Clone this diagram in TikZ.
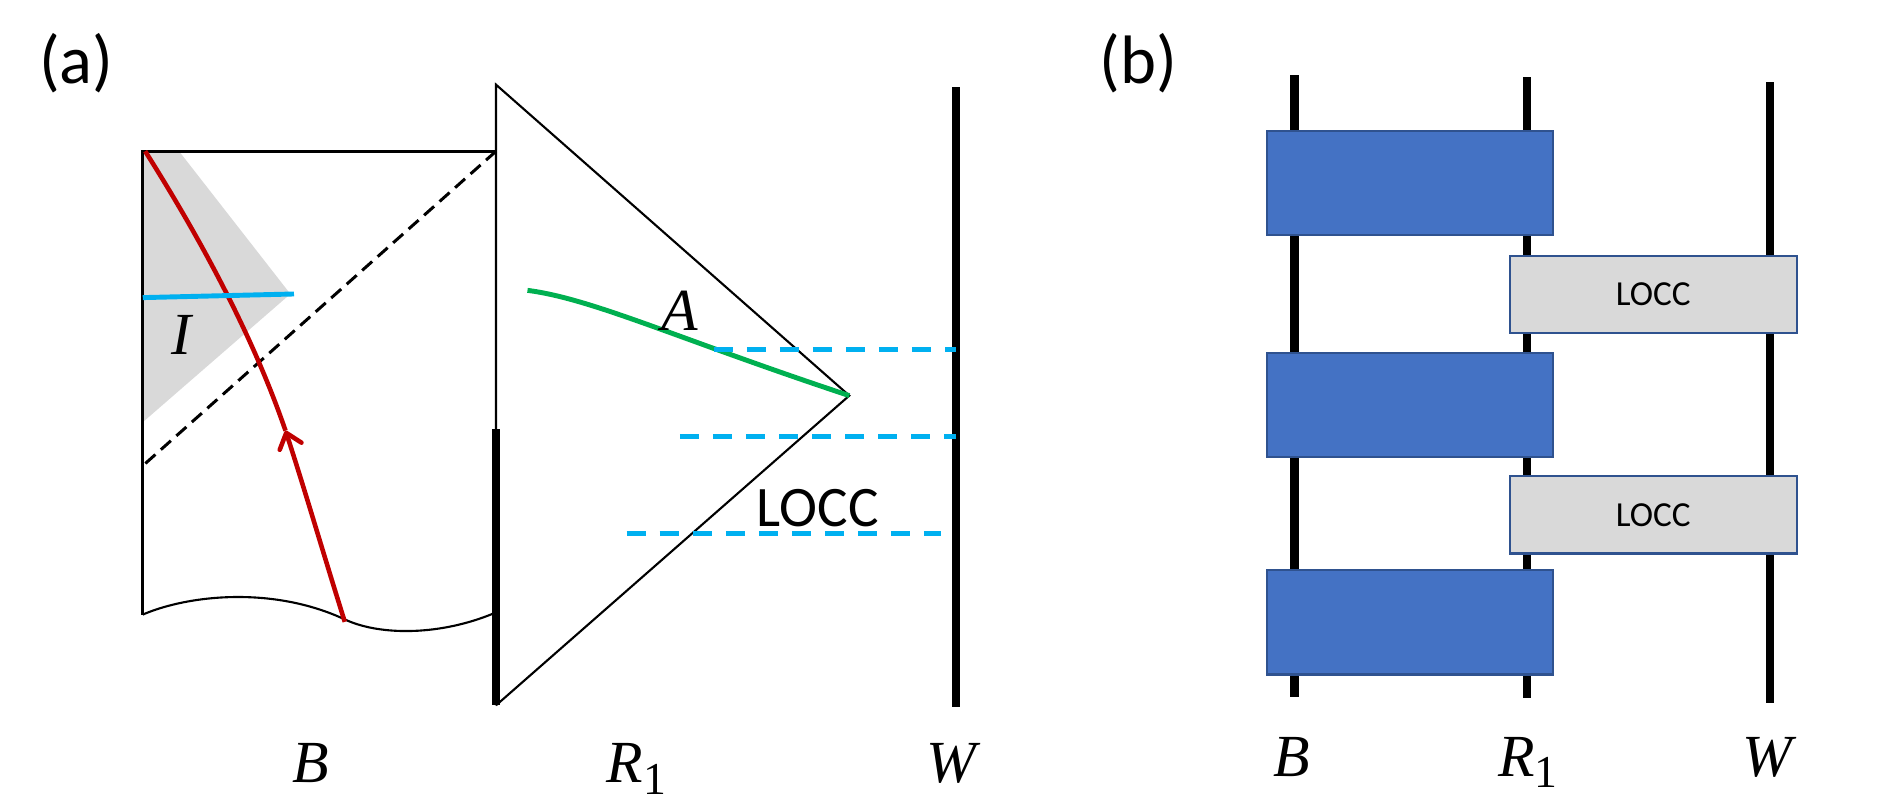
\documentclass[tikz,border=0pt]{standalone}
\usepackage{amsmath}
\usepackage{fontspec}
\setmainfont{Carlito}
\newfontfamily\mathlike[Ligatures=TeX]{Liberation Serif}
\usetikzlibrary{calc, arrows.meta}
\definecolor{wireblue}{HTML}{00B0F0}
\definecolor{sliceGreen}{HTML}{00B050}
\definecolor{rayred}{HTML}{C00000}
\definecolor{unitary}{HTML}{4472C4}
\definecolor{unitaryedge}{HTML}{2F528F}
\definecolor{islandgray}{HTML}{D9D9D9}
\newcommand{\subone}{\raisebox{-3.2pt}{\upshape\fontsize{13}{14}\selectfont 1}}
\tikzset{
  thinln/.style={line width=.6pt},
  thickln/.style={line width=2.4pt},
  cyanln/.style={line width=1.4pt,color=wireblue},
  cyandash/.style={line width=1.4pt,color=wireblue,dash pattern=on 5.4pt off 4pt},
  ublock/.style={draw=unitaryedge,line width=.6pt,fill=unitary,minimum width=237*.0121cm,minimum height=86*.0121cm},
  loccblock/.style={draw=unitaryedge,line width=.6pt,fill=islandgray,minimum width=237*.0121cm,minimum height=64*.0121cm,font=\fontsize{10}{12}\selectfont},
  sym/.style={font=\mathlike\itshape\fontsize{17}{19}\selectfont},
  tag/.style={font=\fontsize{19.5}{23}\selectfont}
}
\begin{document}
\begin{tikzpicture}[x=.0121cm,y=-.0121cm,inner sep=0pt]
\useasboundingbox (0,0) rectangle (1568,664.5);
% panel (a)
\coordinate (TL) at (118,125);
\coordinate (TR) at (410,125);
\coordinate (BL) at (118,508);
\coordinate (BR) at (408,507);
\coordinate (Apex) at (410,70);
\coordinate (Tip) at (702,327);
\coordinate (Foot) at (410,583);
\coordinate (Knee) at (410,355);
\coordinate (DashEnd) at (118,385);
\fill[islandgray] (TL) -- (148,125) -- (240,243) -- (118,349) -- cycle;
\draw[line width=.95pt] (BL) -- (TL) -- (TR);
\draw[line width=.85pt,dash pattern=on 3.8pt off 2.1pt] (TR) -- (DashEnd);
\draw[thinln] (BL) .. controls (155,492) and (225,484) .. (285,512) .. controls (315,526) and (365,525) .. (BR);
\draw[thinln] (Foot) -- (Apex) -- (Tip) -- (Foot);
\draw[thickln] (Knee) -- (Foot);
\coordinate (RayStart) at (285,514);
\coordinate (RayMid) at (236,356);
\coordinate (RayEnd) at (120,125);
\draw[rayred,line width=1.3pt,-{Straight Barb[round,length=4pt,width=6.5pt]}] (RayStart) .. controls (268,460) and (252,405) .. (RayMid);
\draw[rayred,line width=1.3pt] (RayMid) .. controls (215,295) and (180,220) .. (RayEnd);
\coordinate (IslL) at (118,246);
\coordinate (IslR) at (243,243);
\draw[cyanln] (IslL) -- (IslR);
\coordinate (GrnL) at (436,240);
\draw[sliceGreen,line width=1.4pt] (GrnL) .. controls (490,247) and (560,280) .. (Tip);
\coordinate (W1) at (790,72);
\coordinate (W2) at (790,584);
\draw[thickln] (W1) -- (W2);
\coordinate (D1a) at (590,289);
\coordinate (D1b) at (790,289);
\coordinate (D2a) at (562,361);
\coordinate (D2b) at (790,361);
\coordinate (D3a) at (518,441);
\coordinate (D3b) at (778,441);
\draw[cyandash] (D1a) -- (D1b);
\draw[cyandash] (D2a) -- (D2b);
\draw[cyandash] (D3a) -- (D3b);
\node[tag] (LabA) at (63,52) {(a)};
\node[sym] (LabI) at (150,277) {I};
\node[sym] (LabSlice) at (562,257) {A};
\node[font=\fontsize{16.3}{19}\selectfont] (LabLocc) at (676,420) {LOCC};
\node[sym,anchor=base] (LabB) at (257,647) {B};
\node[sym,anchor=base west] (LabR) at (501,647) {R\subone};
\node[sym,anchor=base] (LabW) at (786,647) {W};
% panel (b)
\coordinate (Bt) at (1070,62);
\coordinate (Bb) at (1070,576);
\coordinate (Rt) at (1262,64);
\coordinate (Rb) at (1262,577);
\coordinate (Wt) at (1463,68);
\coordinate (Wb) at (1463,581);
\draw[thickln] (Bt) -- (Bb);
\draw[thickln] (Rt) -- (Rb);
\draw[thickln] (Wt) -- (Wb);
\node[ublock] (U1) at (1165.5,151.5) {};
\node[ublock] (U2) at (1165.5,334.5) {};
\node[ublock] (U3) at (1165.5,514.5) {};
\node[loccblock] (L1) at (1366.5,243.5) {LOCC};
\node[loccblock] (L2) at (1366.5,425.5) {LOCC};
\node[tag] (LabBb) at (941,52) {(b)};
\node[sym,anchor=base] (LabB2) at (1068,642) {B};
\node[sym,anchor=base west] (LabR2) at (1238,642) {R\subone};
\node[sym,anchor=base] (LabW2) at (1461,642) {W};
\end{tikzpicture}
\end{document}
